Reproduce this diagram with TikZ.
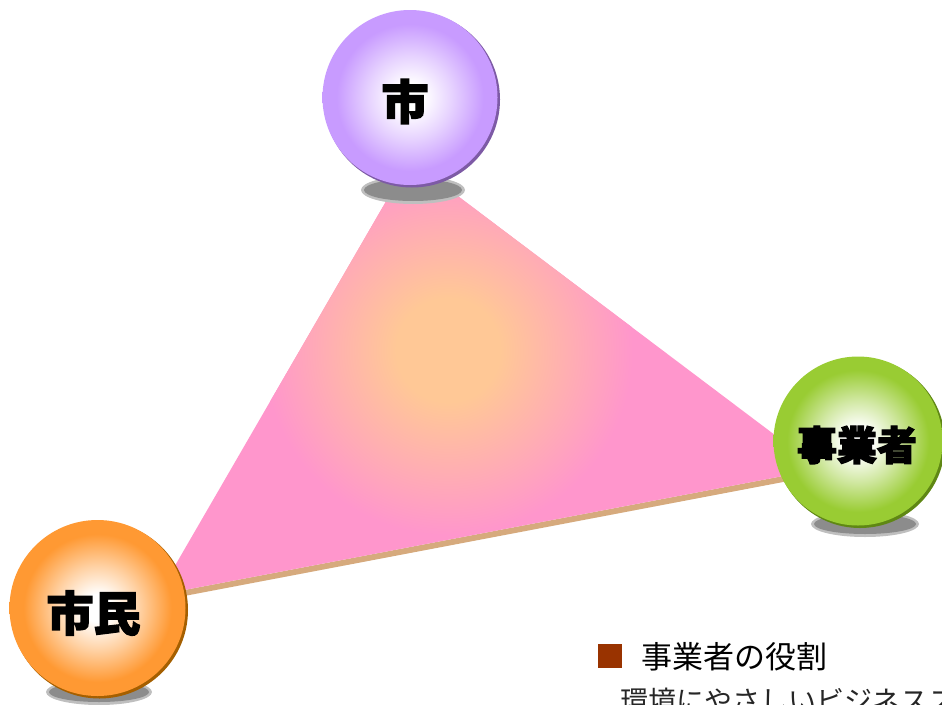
\documentclass[tikz,border=0pt]{standalone}
\usepackage{fontspec}
\newfontfamily\cjk{Noto Sans CJK JP}
\newfontfamily\cjkheavy{Noto Sans CJK JP}[BoldFeatures={FakeBold=3}]
\definecolor{purpleball}{RGB}{200,155,255}
\definecolor{purplerim}{RGB}{125,90,165}
\definecolor{greenball}{RGB}{153,204,51}
\definecolor{greenrim}{RGB}{95,135,20}
\definecolor{orangeball}{RGB}{255,153,51}
\definecolor{orangerim}{RGB}{165,95,0}
\definecolor{tripink}{RGB}{255,150,204}
\definecolor{tripeach}{RGB}{255,200,150}
\definecolor{edgetan}{RGB}{214,170,125}
\definecolor{bulletred}{RGB}{153,51,0}
\pgfdeclareradialshading{ballP}{\pgfpoint{0bp}{0bp}}{color(0bp)=(white);color(4bp)=(white);color(12bp)=(purpleball!45);color(21bp)=(purpleball);color(50bp)=(purpleball)}
\pgfdeclareradialshading{ballG}{\pgfpoint{0bp}{0bp}}{color(0bp)=(white);color(4bp)=(white);color(12bp)=(greenball!45);color(21bp)=(greenball);color(50bp)=(greenball)}
\pgfdeclareradialshading{ballO}{\pgfpoint{0bp}{0bp}}{color(0bp)=(white);color(4bp)=(white);color(12bp)=(orangeball!45);color(21bp)=(orangeball);color(50bp)=(orangeball)}
\pgfdeclareradialshading{triglow}{\pgfpoint{0bp}{0bp}}{color(0bp)=(tripeach);color(7bp)=(tripeach);color(25bp)=(tripink);color(50bp)=(tripink)}
\begin{document}
\begin{tikzpicture}[x=1pt,y=-1pt,
  ball/.style={circle, inner sep=0pt, shade},
  balltext/.style={inner sep=0pt, text=black, font=\cjkheavy\bfseries\fontsize{47}{47}\selectfont},
  shadowst/.style={fill=black!45},
  shadowsoft/.style={fill=black!25}]
\useasboundingbox (0,0) rectangle (942,704);
\clip (0,0) rectangle (942,704);
% triangle
\coordinate (tA) at (410,160);
\coordinate (tB) at (820,469);
\coordinate (tC) at (158,595);
\coordinate (tB2) at (820,475);
\coordinate (tC2) at (158,601);
\fill[edgetan] (tC) -- (tB) -- (tB2) -- (tC2) -- cycle;
\fill[tripink] (tA) -- (tB) -- (tC) -- cycle;
\begin{scope}
  \clip (tA) -- (tB) -- (tC) -- cycle;
  \shade[shading=triglow] (448,350) circle (185pt);
\end{scope}
% shadows
\fill[shadowsoft] (413,190) ellipse [x radius=52pt, y radius=14pt];
\fill[shadowst] (413,190) ellipse [x radius=49pt, y radius=11pt];
\fill[shadowsoft] (865,524) ellipse [x radius=54pt, y radius=13pt];
\fill[shadowst] (865,524) ellipse [x radius=51pt, y radius=10pt];
\fill[shadowsoft] (99,692) ellipse [x radius=53pt, y radius=13pt];
\fill[shadowst] (99,692) ellipse [x radius=50pt, y radius=10pt];
% rims
\fill[purplerim] (412,99.5) circle (88pt);
\fill[greenrim] (860,443) circle (85pt);
\fill[orangerim] (99.5,610) circle (88.5pt);
% balls
\node[ball, shading=ballP, minimum size=175pt] (shi) at (410,97.5) {};
\node[ball, shading=ballG, minimum size=169pt] (jigyo) at (858,441) {};
\node[ball, shading=ballO, minimum size=176pt] (shimin) at (97.5,608) {};
\node[balltext] (shiT) at ([shift={(-5,4)}]shi.center) {市};
\node[balltext, font=\cjkheavy\bfseries\fontsize{40}{40}\selectfont] (jigyoT) at ([shift={(-1,4)}]jigyo.center) {事業者};
\node[balltext] (shiminT) at ([shift={(-4,5)}]shimin.center) {市民};
% legend text
\node[fill=bulletred, minimum size=24pt, inner sep=0pt] (sq) at (609.5,656) {};
\node[anchor=base west, inner sep=0pt, font=\cjk\fontsize{31}{31}\selectfont] (title) at (641,668) {事業者の役割};
\node[anchor=base west, inner sep=0pt, text=black!85, font=\cjk\fontsize{28}{28}\selectfont] (desc) at (620,711) {環境にやさしいビジネスス};
\end{tikzpicture}
\end{document}
